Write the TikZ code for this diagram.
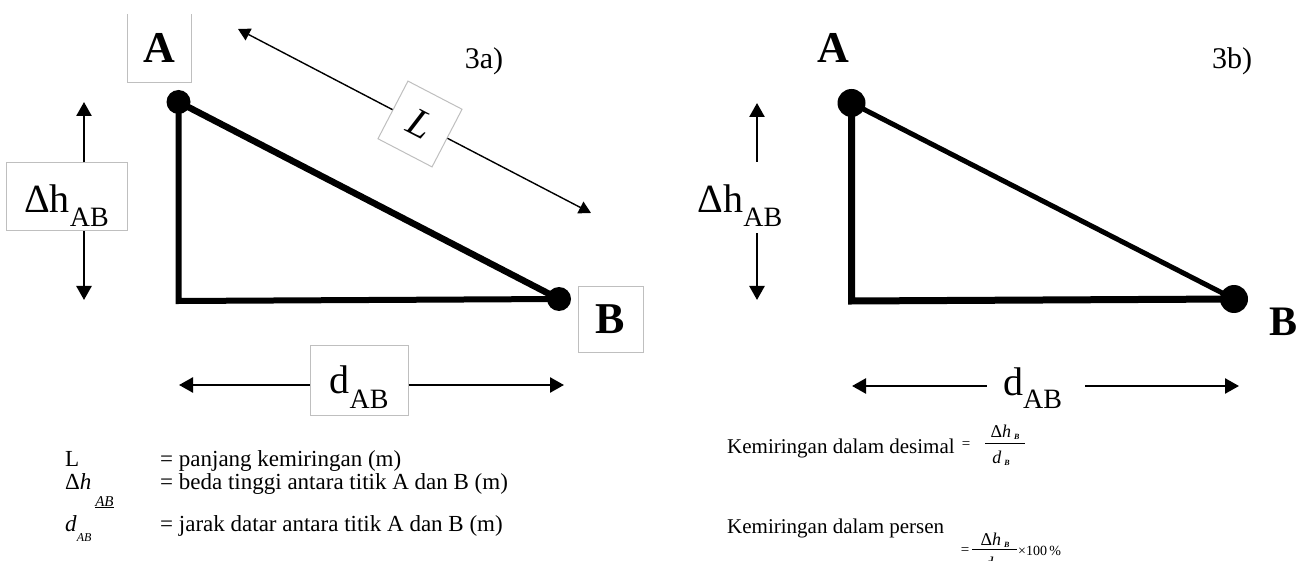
\documentclass[tikz,border=0pt]{standalone}
\usepackage{fontspec}
\setmainfont{Liberation Serif}
\usetikzlibrary{arrows.meta,calc}
\begin{document}
\begin{tikzpicture}[x=1pt,y=-1pt,
  fs/.style={font=\fontsize{#1pt}{#1pt}\selectfont},
  lblbox/.style={draw=black!25, line width=1pt, inner sep=0pt},
  blank/.style={inner sep=0pt},
  dotnode/.style={circle, fill=black, inner sep=0pt, minimum size=#1},
  arr/.style={line width=2.5pt, -{Triangle[width=15pt,length=14pt]}},
  thinarr/.style={line width=1.4pt, -{Triangle[width=13pt,length=12pt]}},
  legline/.style={line width=#1, line join=miter, line cap=rect},
  fracbar/.style={line width=0.8pt}
]
\useasboundingbox (0,0) rectangle (1306,561);
\clip (0,0) rectangle (1306,561);

% ================= 3a) =================
\coordinate (pA1) at (178.5,102);
\coordinate (C1) at (178.5,301);
\coordinate (pB1) at (559,299);
\draw[legline=6pt] (pA1) -- (C1) -- (pB1);
\draw[legline=6.5pt] (pA1) -- (pB1);
\node[dotnode=24pt] (A1) at (pA1) {};
\node[dotnode=24pt] (B1) at (pB1) {};

% A label box (open at top)
\node[blank, minimum width=63pt, minimum height=68pt, fs=44] (boxA) at (159.5,48) {\bfseries A};
\draw[draw=black!25, line width=1pt] (boxA.north west) -- (boxA.south west) -- (boxA.south east) -- (boxA.north east);
% B label box
\node[lblbox, minimum width=65pt, minimum height=65pt, fs=44] (boxB) at (610.5,319.5) {\bfseries B};

% Delta h box + arrows
\node[lblbox, minimum width=121pt, minimum height=68pt] (dhA) at (66.5,197) {};
\node[blank, anchor=base, fs=40] (dhAt) at (66.5,213) {Δh\raisebox{-14pt}{\fontsize{28pt}{28pt}\selectfont AB}};
\coordinate (dhAup) at (84,102);
\coordinate (dhAdn) at (84,300);
\draw[arr] (dhA.north -| dhAup) -- (dhAup);
\draw[arr] (dhA.south -| dhAdn) -- (dhAdn);

% d box + arrows
\node[lblbox, minimum width=98pt, minimum height=70pt] (dA) at (359,380) {};
\node[blank, anchor=base, fs=40] (dAt) at (359,393) {d\raisebox{-15pt}{\fontsize{28pt}{28pt}\selectfont AB}};
\coordinate (dAl) at (179,385);
\coordinate (dAr) at (564,385);
\draw[arr] (dA.west |- dAl) -- (dAl);
\draw[arr] (dA.east |- dAr) -- (dAr);

% L arrow + rotated box
\coordinate (Ltop) at (238,29);
\coordinate (Lbot) at (591,213);
\node[lblbox, rotate=-27.5, minimum width=61pt, minimum height=65pt, fill=white, fs=40] (Lbox) at (420,124) {\itshape L};
\draw[thinarr] (Lbox) -- (Ltop);
\draw[thinarr] (Lbox) -- (Lbot);

\node[blank, fs=30] (t3a) at (484,61) {3a)};

% legend
\node[blank, anchor=base west, fs=23] (lg1) at (65,466) {L};
\node[blank, anchor=base west, fs=23] (lg1r) at (160,466) {= panjang kemiringan (m)};
\node[blank, anchor=base west, fs=23] (lg2) at (65,489) {Δ\textit{h}\,\raisebox{-17pt}{\fontsize{15pt}{15pt}\selectfont\underline{\textit{AB}}}};
\node[blank, anchor=base west, fs=23] (lg2r) at (160,489) {= beda tinggi antara titik A dan B (m)};
\node[blank, anchor=base west, fs=23] (lg3) at (65,531) {\textit{d}\raisebox{-10pt}{\fontsize{12pt}{12pt}\selectfont\textit{AB}}};
\node[blank, anchor=base west, fs=23] (lg3r) at (160,531) {= jarak datar antara titik A dan B (m)};

% ================= 3b) =================
\coordinate (pA2) at (851.5,103);
\coordinate (C2) at (851.5,301);
\coordinate (pB2) at (1234,299);
\draw[legline=7pt] (pA2) -- (C2) -- (pB2);
\draw[legline=5pt] (pA2) -- (pB2);
\node[dotnode=28pt] (A2) at (pA2) {};
\node[dotnode=28pt] (B2) at (pB2) {};

\node[blank, fs=44] (labA2) at (833,48) {\bfseries A};
\node[blank, fs=42] (labB2) at (1283,322) {\bfseries B};
\node[blank, fs=30] (t3b) at (1232,61) {3b)};

% Delta h (no box)
\node[blank, minimum width=90pt, minimum height=71pt] (dhB) at (740,197.5) {};
\node[blank, anchor=base, fs=40] (dhBt) at (740,213) {Δh\raisebox{-14pt}{\fontsize{28pt}{28pt}\selectfont AB}};
\coordinate (dhBup) at (757,103);
\coordinate (dhBdn) at (757,300);
\draw[arr] (dhB.north -| dhBup) -- (dhBup);
\draw[arr] (dhB.south -| dhBdn) -- (dhBdn);

% d (no box)
\node[blank, minimum width=98pt, minimum height=50pt] (dB) at (1036,386) {};
\node[blank, anchor=base, fs=40] (dBt) at (1032.5,395) {d\raisebox{-13pt}{\fontsize{28pt}{28pt}\selectfont AB}};
\coordinate (dBl) at (852,386);
\coordinate (dBr) at (1239,386);
\draw[arr] (dB.west |- dBl) -- (dBl);
\draw[arr] (dB.east |- dBr) -- (dBr);

% formulas
\node[blank, anchor=base west, fs=21] (k1) at (727,453) {Kemiringan dalam desimal};
\node[blank, fs=15] (eq1) at (966,445) {=};
\node[blank, anchor=base, fs=18] (n1) at (1005,437) {Δ\textit{h}\,\raisebox{-2pt}{\fontsize{8pt}{8pt}\selectfont\bfseries\itshape B}};
\coordinate (bar1l) at (985,443);
\coordinate (bar1r) at (1025,443);
\draw[fracbar] (bar1l) -- (bar1r);
\node[blank, anchor=base, fs=18] (d1) at (1001,463) {\textit{d}\,\raisebox{-2pt}{\fontsize{8pt}{8pt}\selectfont\bfseries\itshape B}};

\node[blank, anchor=base west, fs=21] (k2) at (727,533) {Kemiringan dalam persen};
\node[blank, fs=15] (eq2) at (965,551) {=};
\node[blank, anchor=base, fs=18] (n2) at (995,545) {Δ\textit{h}\,\raisebox{-2pt}{\fontsize{8pt}{8pt}\selectfont\bfseries\itshape B}};
\coordinate (bar2l) at (972,549);
\coordinate (bar2r) at (1017,549);
\draw[fracbar] (bar2l) -- (bar2r);
\node[blank, anchor=base, fs=18] (d2) at (993,569) {\textit{d}\,\raisebox{-2pt}{\fontsize{8pt}{8pt}\selectfont\bfseries\itshape B}};
\node[blank, anchor=west, fs=14] (x100) at (1018,551) {×100\,\%};
\end{tikzpicture}
\end{document}
